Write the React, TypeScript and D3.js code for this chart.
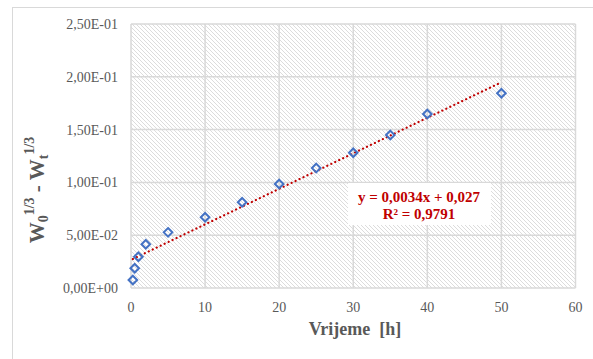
import React from "react";
import * as d3 from "d3";

const timeH = [0.25, 0.5, 1, 2, 5, 10, 15, 20, 25, 30, 35, 40, 50];
const deltaW = [0.0076, 0.0187, 0.0296, 0.0414, 0.0527, 0.067, 0.0812, 0.0985, 0.1136, 0.1281, 0.1449, 0.1648, 0.1844];
const xTicks = [0, 10, 20, 30, 40, 50, 60];
const yTicks = [0, 0.05, 0.1, 0.15, 0.2, 0.25];
const eqLine1 = "y = 0,0034x + 0,027";
const eqLine2 = "R² = 0,9791";

const W = 593;
const H = 359;
const plot = { left: 131, right: 575.5, top: 24, bottom: 288 };

function fmtY(v: number): string {
  if (v === 0) return "0,00E+00";
  const e = Math.floor(Math.log10(v) + 1e-9);
  const m = v / Math.pow(10, e);
  const sign = e < 0 ? "-" : "+";
  const ae = Math.abs(e);
  return m.toFixed(2).replace(".", ",") + "E" + sign + (ae < 10 ? "0" + ae : "" + ae);
}

const font = '"Liberation Serif"';

export default function App() {
  const x = d3.scaleLinear().domain([0, 60]).range([plot.left, plot.right]);
  const y = d3.scaleLinear().domain([0, 0.25]).range([plot.bottom, plot.top]);

  const mx = d3.mean(timeH)!;
  const my = d3.mean(deltaW)!;
  let sxy = 0, sxx = 0;
  timeH.forEach((t, i) => {
    sxy += (t - mx) * (deltaW[i] - my);
    sxx += (t - mx) * (t - mx);
  });
  const slope = sxy / sxx;
  const intercept = my - slope * mx;
  const x0 = d3.min(timeH)!;
  const x1 = d3.max(timeH)!;
  const line = d3.line<number>().x((t) => x(t)).y((t) => y(intercept + slope * t));

  const gridColor = "#d9d9d9";
  const textColor = "#595959";
  const ts = { fontFamily: font };

  return (
    <svg width={W} height={H} style={{ position: "absolute", left: 0, top: 0, background: "#fff" }}>
      <defs>
        <pattern id="hatch" patternUnits="userSpaceOnUse" width={4} height={4}>
          <rect width={4} height={4} fill="#fff" />
          <path d="M-1,-1 L5,5 M-1,3 L1,5 M3,-1 L5,1" stroke="#dcdcdc" strokeWidth={1} />
        </pattern>
      </defs>
      <rect x={12.5} y={7.5} width={W} height={H} fill="#fff" stroke={gridColor} strokeWidth={1} />
      <rect
        x={plot.left}
        y={plot.top}
        width={plot.right - plot.left}
        height={plot.bottom - plot.top}
        fill="url(#hatch)"
      />
      {yTicks.map((t) => (
        <line key={"gy" + t} x1={plot.left} x2={plot.right} y1={y(t)} y2={y(t)} stroke={gridColor} strokeWidth={1.5} />
      ))}
      {xTicks.map((t) => (
        <line key={"gx" + t} x1={x(t)} x2={x(t)} y1={plot.top} y2={plot.bottom} stroke={gridColor} strokeWidth={1.5} />
      ))}
      {yTicks.map((t) => (
        <text key={"ly" + t} style={ts} x={118} y={y(t)} dy="0.35em" textAnchor="end" fontSize={14} fill={textColor}>
          {fmtY(t)}
        </text>
      ))}
      {xTicks.map((t) => (
        <text key={"lx" + t} style={ts} x={x(t)} y={312} textAnchor="middle" fontSize={14} fill={textColor}>
          {t}
        </text>
      ))}
      <path
        d={line([x0, x1]) || ""}
        fill="none"
        stroke="#c00000"
        strokeWidth={2.2}
        strokeDasharray="0.1 4.3"
        strokeLinecap="round"
      />
      {timeH.map((t, i) => {
        const cx = x(t);
        const cy = y(deltaW[i]);
        const r = 4.3;
        return (
          <path
            key={"p" + i}
            d={`M${cx},${cy - r}L${cx + r},${cy}L${cx},${cy + r}L${cx - r},${cy}Z`}
            fill="none"
            stroke="#4472c4"
            strokeWidth={2}
          />
        );
      })}
      <rect x={348} y={183} width={143} height={42} fill="#fff" />
      <text style={ts} x={419} y={202} textAnchor="middle" fontSize={15} fontWeight="bold" fill="#c00000">
        {eqLine1}
      </text>
      <text style={ts} x={419} y={219} textAnchor="middle" fontSize={15} fontWeight="bold" fill="#c00000">
        {eqLine2}
      </text>
      <text style={ts} x={355} y={335} textAnchor="middle" fontSize={18} fontWeight="bold" fill={textColor}>
        Vrijeme{"\u00a0\u00a0"}[h]
      </text>
      <text
        style={ts}
        transform={`translate(44,190) rotate(-90)`}
        textAnchor="middle"
        fontSize={21}
        fontWeight="bold"
        fill={textColor}
      >
        <tspan>W</tspan>
        <tspan fontSize={14} dy={4}>0</tspan>
        <tspan fontSize={14} dy={-14}>1/3</tspan>
        <tspan dy={10}> - W</tspan>
        <tspan fontSize={14} dy={4}>t</tspan>
        <tspan fontSize={14} dy={-14}>1/3</tspan>
      </text>
    </svg>
  );
}
